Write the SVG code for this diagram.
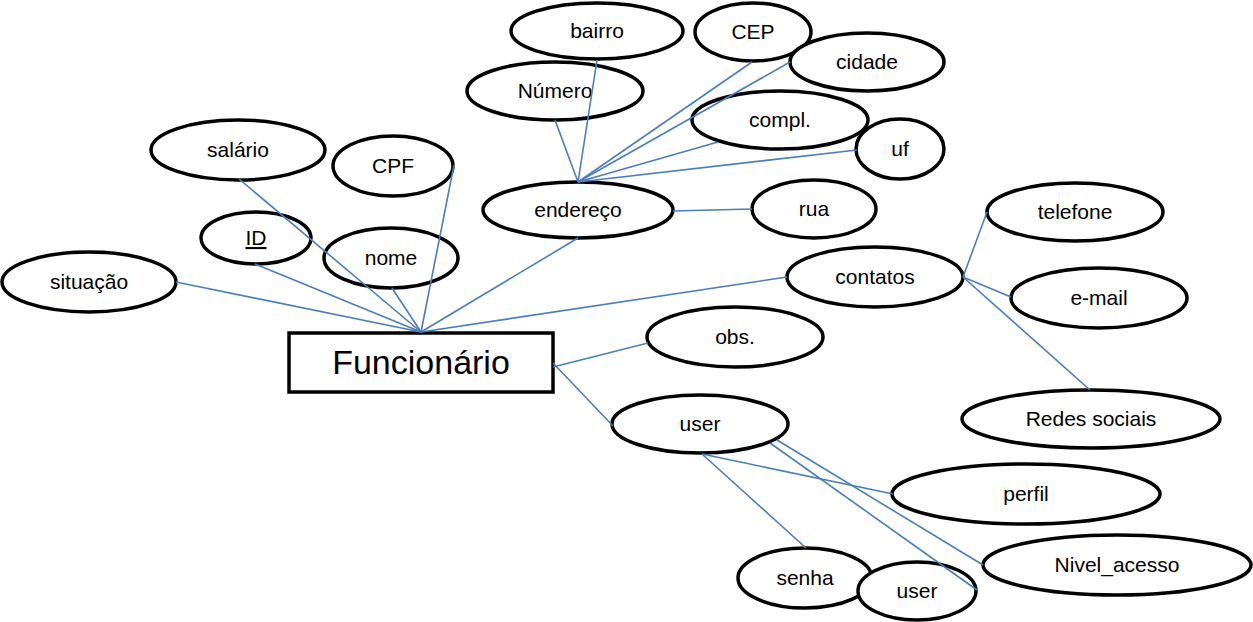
<svg xmlns="http://www.w3.org/2000/svg" width="1253" height="622" viewBox="0 0 1253 622">
<style>
.n ellipse,.n rect{fill:#fff;stroke:#000;stroke-width:3.5}
.n text{font-family:"Liberation Sans",Arial,sans-serif;font-size:21px;fill:#000;text-anchor:middle}
.c line{stroke:#4a7ebb;stroke-width:1.6}
</style>
<rect width="1253" height="622" fill="#fff"/>
<g class="n">
<g id="bairro"><ellipse cx="597" cy="31" rx="86" ry="28"/><text x="597" y="38">bairro</text></g>
<g id="cep"><ellipse cx="753" cy="32" rx="58" ry="29"/><text x="753" y="39">CEP</text></g>
<g id="cidade"><ellipse cx="867" cy="62" rx="77" ry="29"/><text x="867" y="69">cidade</text></g>
<g id="numero"><ellipse cx="555" cy="91" rx="88" ry="29"/><text x="555" y="98">Número</text></g>
<g id="compl"><ellipse cx="780" cy="120" rx="88" ry="29"/><text x="780" y="127">compl.</text></g>
<g id="uf"><ellipse cx="900" cy="149" rx="44" ry="30"/><text x="900" y="156">uf</text></g>
<g id="endereco"><ellipse cx="578" cy="210" rx="95" ry="28"/><text x="578" y="217">endereço</text></g>
<g id="rua"><ellipse cx="814" cy="209" rx="62" ry="29"/><text x="814" y="216">rua</text></g>
<g id="salario"><ellipse cx="238" cy="150" rx="87" ry="30"/><text x="238" y="157">salário</text></g>
<g id="cpf"><ellipse cx="393" cy="166" rx="60" ry="30"/><text x="393" y="173">CPF</text></g>
<g id="id"><ellipse cx="256" cy="238" rx="55" ry="26"/><text x="256" y="245" text-decoration="underline">ID</text></g>
<g id="nome"><ellipse cx="391" cy="258" rx="67" ry="30"/><text x="391" y="265">nome</text></g>
<g id="situacao"><ellipse cx="89" cy="282" rx="87" ry="30"/><text x="89" y="289">situação</text></g>
<g id="funcionario"><rect x="289" y="333" width="264" height="59"/><text x="421" y="374" style="font-size:34px">Funcionário</text></g>
<g id="contatos"><ellipse cx="875" cy="277" rx="88" ry="30"/><text x="875" y="284">contatos</text></g>
<g id="telefone"><ellipse cx="1075" cy="212" rx="88" ry="29"/><text x="1075" y="219">telefone</text></g>
<g id="email"><ellipse cx="1099" cy="298" rx="88" ry="30"/><text x="1099" y="305">e-mail</text></g>
<g id="redes"><ellipse cx="1091" cy="419" rx="129" ry="29"/><text x="1091" y="426">Redes sociais</text></g>
<g id="obs"><ellipse cx="735" cy="337" rx="88" ry="30"/><text x="735" y="344">obs.</text></g>
<g id="user"><ellipse cx="700" cy="424" rx="88" ry="29"/><text x="700" y="431">user</text></g>
<g id="perfil"><ellipse cx="1026" cy="494" rx="134" ry="30"/><text x="1026" y="501">perfil</text></g>
<g id="nivel"><ellipse cx="1117" cy="565" rx="134" ry="30"/><text x="1117" y="572">Nivel_acesso</text></g>
<g id="senha"><ellipse cx="805" cy="578" rx="67" ry="30"/><text x="805" y="585">senha</text></g>
<g id="user2"><ellipse cx="917" cy="591" rx="59" ry="29"/><text x="917" y="598">user</text></g>
</g>
<g class="c">
<line x1="578" y1="182" x2="555" y2="120"/>
<line x1="578" y1="182" x2="597" y2="60"/>
<line x1="578" y1="182" x2="752" y2="62"/>
<line x1="578" y1="182" x2="790" y2="62"/>
<line x1="578" y1="182" x2="718" y2="142"/>
<line x1="578" y1="182" x2="857" y2="150"/>
<line x1="673" y1="211" x2="752" y2="209"/>
<line x1="421" y1="332" x2="176" y2="282"/>
<line x1="421" y1="332" x2="255" y2="264"/>
<line x1="421" y1="332" x2="239" y2="179"/>
<line x1="421" y1="332" x2="392" y2="288"/>
<line x1="421" y1="332" x2="454" y2="165"/>
<line x1="421" y1="332" x2="578" y2="238"/>
<line x1="421" y1="332" x2="787" y2="277"/>
<line x1="963" y1="277" x2="987" y2="212"/>
<line x1="963" y1="277" x2="1011" y2="297"/>
<line x1="963" y1="277" x2="1090" y2="390"/>
<line x1="553" y1="367" x2="648" y2="343"/>
<line x1="553" y1="363" x2="613" y2="426"/>
<line x1="702" y1="454" x2="893" y2="494"/>
<line x1="702" y1="454" x2="806" y2="548"/>
<line x1="770" y1="443" x2="977" y2="590"/>
<line x1="777" y1="440" x2="983" y2="565"/>
</g>
</svg>
